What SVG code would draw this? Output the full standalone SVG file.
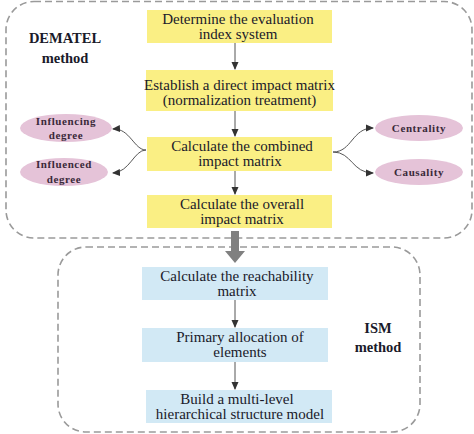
<svg xmlns="http://www.w3.org/2000/svg" width="474" height="434" viewBox="0 0 474 434">
<style>
.frame{fill:none;stroke:#9a9a9a;stroke-width:1.6;stroke-dasharray:7 4}
.y{fill:#FAEF84}
.b{fill:#D2E9F5}
.e{fill:#E5C3D8}
text{font-family:"Liberation Serif","Times New Roman","DejaVu Serif",serif}
.t{font-size:15px;fill:#1a1a2a;text-anchor:middle}
.h{font-size:14.5px;font-weight:bold;fill:#1a1a2a;text-anchor:middle}
.s{font-size:11px;font-weight:bold;fill:#3a2a3a;text-anchor:middle;letter-spacing:0.6px}
.c{fill:none;stroke:#555;stroke-width:1}
</style>
<defs>
<marker id="ah" markerWidth="8" markerHeight="8" refX="7" refY="4" orient="auto" markerUnits="userSpaceOnUse">
<path d="M0,0.5 L8,4 L0,7.5 Z" fill="#333"/>
</marker>
</defs>
<rect x="6" y="1.5" width="466" height="236.5" rx="28" class="frame"/>
<rect x="58" y="247" width="362" height="185" rx="28" class="frame"/>
<text class="h" x="65" y="43">DEMATEL</text>
<text class="h" x="65" y="63">method</text>
<text class="h" x="378" y="333">ISM</text>
<text class="h" x="378" y="352">method</text>
<g id="n1"><rect class="y" x="147" y="10" width="185" height="33"/><text class="t" x="238" y="24">Determine the evaluation</text><text class="t" x="238" y="39">index system</text></g>
<g id="n2"><rect class="y" x="146" y="70" width="187" height="41"/><text class="t" x="239.5" y="90">Establish a direct impact matrix</text><text class="t" x="239.5" y="105">(normalization treatment)</text></g>
<g id="n3"><rect class="y" x="147" y="137" width="185" height="34"/><text class="t" x="242" y="151">Calculate the combined</text><text class="t" x="240" y="166">impact matrix</text></g>
<g id="n4"><rect class="y" x="147" y="195" width="185" height="33"/><text class="t" x="242" y="209">Calculate the overall</text><text class="t" x="242" y="224">impact matrix</text></g>
<g id="n5"><rect class="b" x="142" y="267" width="186" height="33"/><text class="t" x="237" y="281">Calculate the reachability</text><text class="t" x="237" y="296">matrix</text></g>
<g id="n6"><rect class="b" x="142" y="328" width="186" height="34"/><text class="t" x="240" y="342">Primary allocation of</text><text class="t" x="240" y="357">elements</text></g>
<g id="n7"><rect class="b" x="146" y="390" width="186" height="33"/><text class="t" x="237" y="404">Build a multi-level</text><text class="t" x="240" y="419">hierarchical structure model</text></g>
<g id="e1"><ellipse class="e" cx="66" cy="128" rx="46" ry="14"/><text class="s" x="66" y="125">Influencing</text><text class="s" x="66" y="139">degree</text></g>
<g id="e2"><ellipse class="e" cx="64" cy="172" rx="44" ry="14"/><text class="s" x="64" y="168">Influenced</text><text class="s" x="64" y="183">degree</text></g>
<g id="e3"><ellipse class="e" cx="419" cy="128" rx="44" ry="13"/><text class="s" x="419" y="132">Centrality</text></g>
<g id="e4"><ellipse class="e" cx="419" cy="172" rx="44" ry="13"/><text class="s" x="419" y="176">Causality</text></g>
<g id="connectors">
<line class="c" x1="235" y1="43" x2="235" y2="69" marker-end="url(#ah)"/>
<line class="c" x1="235" y1="111" x2="235" y2="136" marker-end="url(#ah)"/>
<line class="c" x1="235" y1="171" x2="235" y2="194" marker-end="url(#ah)"/>
<line class="c" x1="235" y1="300" x2="235" y2="327" marker-end="url(#ah)"/>
<line class="c" x1="235" y1="362" x2="235" y2="389" marker-end="url(#ah)"/>
<path class="c" d="M146,150 C134,150 130,128 113,129" marker-end="url(#ah)"/>
<path class="c" d="M146,150 C134,150 130,172 113,173" marker-end="url(#ah)"/>
<path class="c" d="M333,152 C352,152 352,128 373,128" marker-end="url(#ah)"/>
<path class="c" d="M333,152 C352,152 352,173 373,173" marker-end="url(#ah)"/>
<path d="M231,231 L239,231 L239,251 L245,251 L235,263 L225,251 L231,251 Z" fill="#808080"/>
</g>
</svg>
